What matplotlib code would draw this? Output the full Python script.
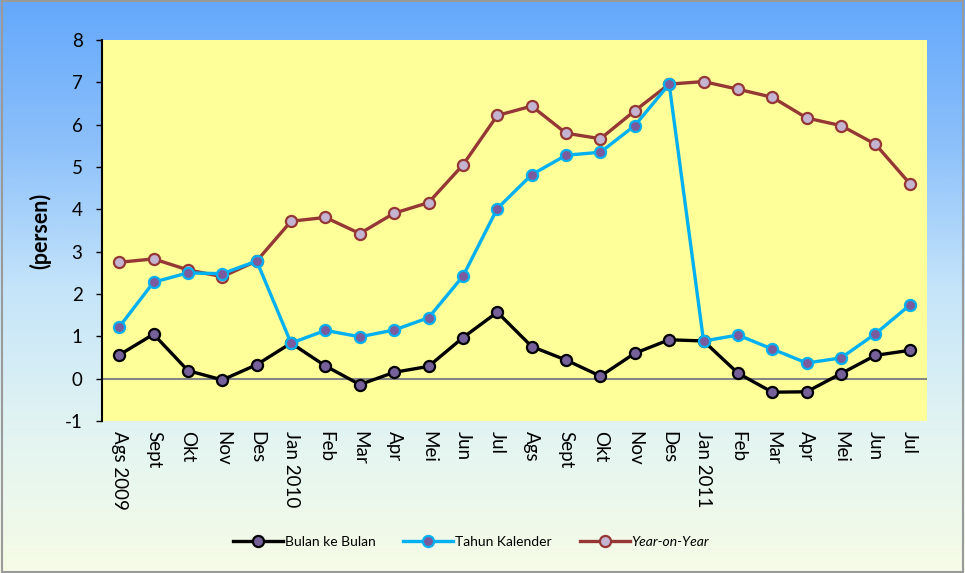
import matplotlib
matplotlib.use("Agg")
import matplotlib.pyplot as plt
import numpy as np
from matplotlib.colors import LinearSegmentedColormap

plt.rcParams['font.family'] = ['Lato', 'DejaVu Sans']
plt.rcParams['axes.unicode_minus'] = False

# data (persen)
months = ["Ags 2009", "Sept", "Okt", "Nov", "Des", "Jan 2010", "Feb", "Mar", "Apr", "Mei",
          "Jun", "Jul", "Ags", "Sept", "Okt", "Nov", "Des", "Jan 2011", "Feb", "Mar",
          "Apr", "Mei", "Jun", "Jul"]
bulan_ke_bulan = [0.56, 1.05, 0.19, -0.03, 0.33, 0.84, 0.30, -0.14, 0.15, 0.29,
                  0.97, 1.57, 0.76, 0.44, 0.06, 0.60, 0.92, 0.89, 0.13, -0.32,
                  -0.31, 0.12, 0.55, 0.67]
tahun_kalender = [1.22, 2.28, 2.50, 2.48, 2.78, 0.84, 1.14, 0.99, 1.15, 1.44,
                  2.42, 4.02, 4.82, 5.28, 5.35, 5.98, 6.96, 0.89, 1.03, 0.70,
                  0.37, 0.49, 1.06, 1.74]
year_on_year = [2.75, 2.83, 2.57, 2.41, 2.78, 3.72, 3.81, 3.43, 3.91, 4.16,
                5.05, 6.22, 6.44, 5.80, 5.67, 6.33, 6.96, 7.02, 6.84, 6.65,
                6.16, 5.98, 5.54, 4.61]

fig = plt.figure(figsize=(9.65, 5.73), dpi=100)

# background gradient (blue at top, pale at bottom)
bg = fig.add_axes([0, 0, 1, 1], zorder=-1)
cmap = LinearSegmentedColormap.from_list("bg", ["#64a8fc", "#8cc0fa", "#c4e4fa", "#e2f4f2", "#f6fce6"])
grad = np.linspace(0, 1, 256).reshape(-1, 1)
bg.imshow(grad, aspect="auto", cmap=cmap, extent=[0, 1, 0, 1])
bg.set_xlim(0, 1)
bg.set_ylim(0, 1)
bg.axis("off")
bg.add_patch(plt.Rectangle((0.002, 0.002), 0.996, 0.996, fill=False, ec="#9a9a9a", lw=1.5,
                           transform=bg.transAxes))

ax = fig.add_axes([0.1057, 0.2653, 0.8549, 0.6647])
ax.set_facecolor("#ffff99")
x = np.arange(len(months))

ax.axhline(0, color="#868686", lw=1.5, zorder=1)

ax.plot(x, bulan_ke_bulan, color="black", lw=2.4, marker="o", ms=8,
        mfc="#76609a", mec="black", mew=1.6, label="Bulan ke Bulan", zorder=3)
ax.plot(x, tahun_kalender, color="#00b0f0", lw=2.4, marker="o", ms=8,
        mfc="#7a5c9e", mec="#00b0f0", mew=1.6, label="Tahun Kalender", zorder=4)
ax.plot(x, year_on_year, color="#953735", lw=2.4, marker="o", ms=8,
        mfc="#c4b4d2", mec="#953735", mew=1.6, label="Year-on-Year", zorder=2)

ax.set_xlim(-0.5, len(months) - 0.5)
ax.set_ylim(-1, 8)
ax.set_yticks(range(-1, 9))
ax.set_xticks(x)
ax.set_xticklabels(months, rotation=270, fontsize=13.5)
ax.tick_params(axis="y", labelsize=13.5, length=4, width=1, pad=10)
ax.tick_params(axis="x", length=0, pad=7)

for s in ["top", "right", "bottom"]:
    ax.spines[s].set_visible(False)
ax.spines["left"].set_linewidth(1.5)

ax.set_ylabel("(persen)", fontsize=15.5, fontweight="bold", labelpad=10)

leg = fig.legend(loc="center", bbox_to_anchor=(0.488, 0.054), ncol=3, frameon=False,
                 fontsize=10, handlelength=3.6, columnspacing=2.0, handletextpad=0.15)
leg.get_texts()[2].set_fontstyle("italic")

fig.savefig("out.png", dpi=100)
